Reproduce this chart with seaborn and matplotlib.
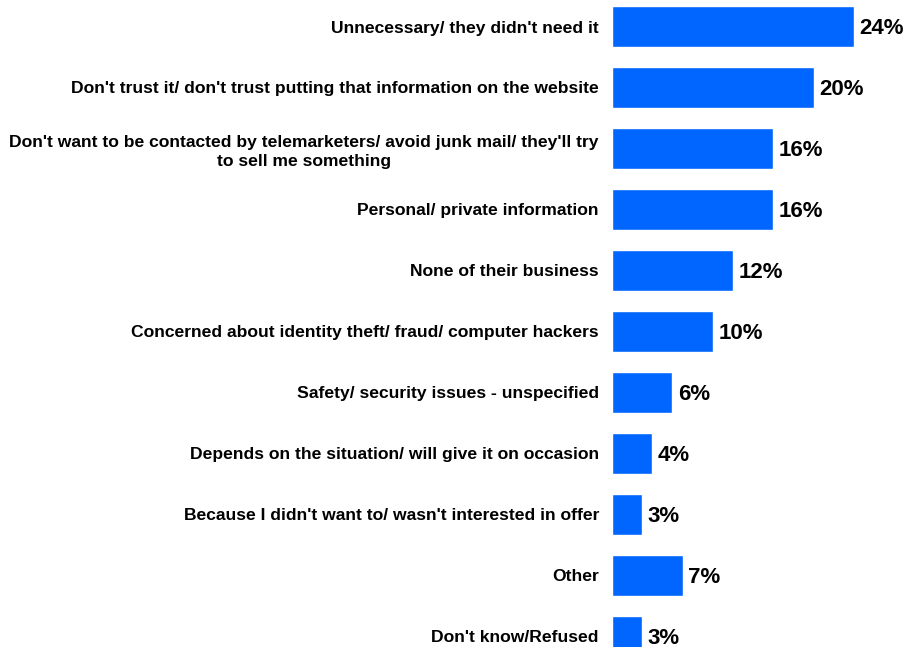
import matplotlib
matplotlib.use("Agg")
import matplotlib.pyplot as plt
import seaborn as sns
import pandas as pd

categories = [
    "Unnecessary/ they didn't need it",
    "Don't trust it/ don't trust putting that information on the website",
    "Don't want to be contacted by telemarketers/ avoid junk mail/ they'll try\nto sell me something",
    "Personal/ private information",
    "None of their business",
    "Concerned about identity theft/ fraud/ computer hackers",
    "Safety/ security issues - unspecified",
    "Depends on the situation/ will give it on occasion",
    "Because I didn't want to/ wasn't interested in offer",
    "Other",
    "Don't know/Refused",
]
values = [24, 20, 16, 16, 12, 10, 6, 4, 3, 7, 3]
value_labels = ["24%", "20%", "16%", "16%", "12%", "10%", "6%", "4%", "3%", "7%", "3%"]

df = pd.DataFrame({"category": categories, "value": values})

sns.set_theme(style="white")
plt.rcParams["font.family"] = ["Liberation Sans", "DejaVu Sans"]

fig = plt.figure(figsize=(9.06, 6.47), dpi=100)
ax = fig.add_axes([612 / 906, 0, 294 / 906, 1])

sns.barplot(data=df, x="value", y="category", color="#0066FF", saturation=1,
            width=0.66, ax=ax, orient="h")

ax.set_xlim(0, 294 / 10.08)
ax.set_ylim((647 - 26.5) / 61, -26.5 / 61)

for i, (v, lab) in enumerate(zip(values, value_labels)):
    ax.text(v + 0.55, i + 0.035, lab, va="center", ha="left", fontsize=16,
            fontweight="bold", color="black")

ax.set_xlabel("")
ax.set_ylabel("")
ax.set_xticks([])
ax.tick_params(axis="y", length=0, pad=9.4)
for t in ax.get_yticklabels():
    t.set_fontsize(12.6)
    t.set_fontweight("bold")
    t.set_multialignment("center")
    t.set_linespacing(1.35)
    t.set_color("black")
for s in ax.spines.values():
    s.set_visible(False)

fig.savefig("out.png", dpi=100)
